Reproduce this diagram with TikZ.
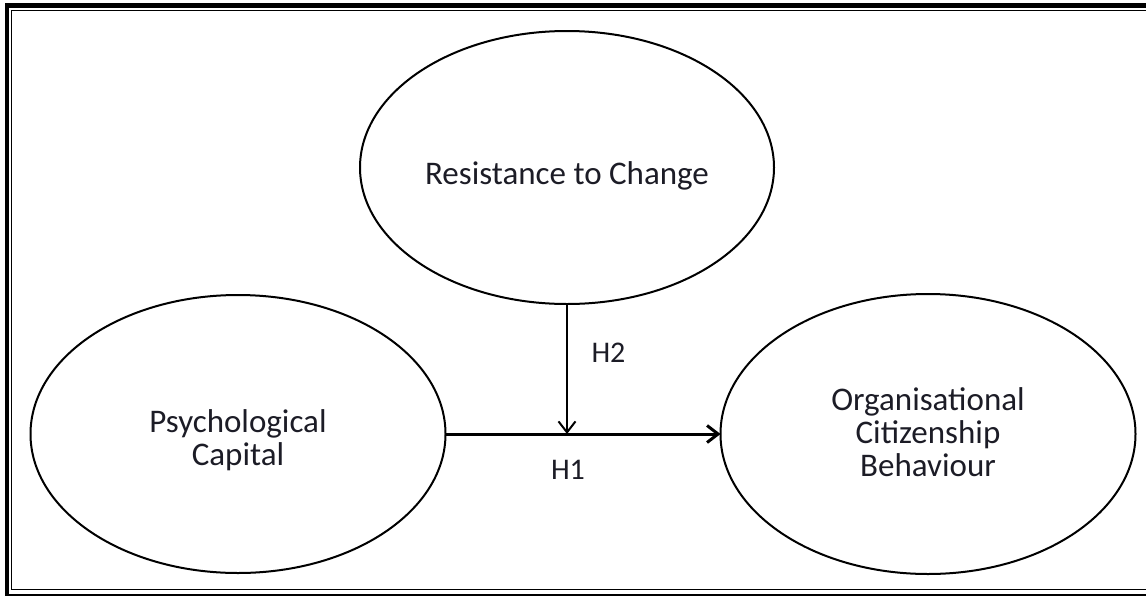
\documentclass[tikz,border=0pt]{standalone}
\usepackage{fontspec}
\setmainfont{Carlito}
\usetikzlibrary{shapes.geometric,arrows.meta}
\definecolor{textc}{RGB}{28,28,38}
\begin{document}
\begin{tikzpicture}[x=1pt,y=-1pt,
  oval/.style={draw=black, line width=2pt, ellipse, minimum width=415pt, minimum height=278pt, inner sep=0pt, outer sep=0pt},
  txt/.style={font=\fontsize{33}{33}\selectfont, text=textc, align=center, inner sep=0pt},
  hlab/.style={font=\fontsize{30}{30}\selectfont, text=textc, inner sep=0pt},
  arr/.style={-{Straight Barb[length=11pt,width=17pt]}, draw=black}]
\useasboundingbox (0,0) rectangle (1146,595);
\begin{scope}
  \clip (0,0) rectangle (1146,595);
  \draw[line width=4.5pt] (1146,5.5) -- (7,5.5) -- (7,596.5) -- (1146,596.5);
  \draw[line width=1.2pt] (1146,10.3) -- (11.7,10.3) -- (11.7,589.8) -- (1146,589.8);
\end{scope}
\node[oval, minimum width=414pt, minimum height=273pt,
      label={[txt,yshift=-8.3pt]center:Resistance to Change}] (rtc) at (567,167.5) {};
\node[oval, label={[txt,yshift=-6pt]center:{Psychological\\Capital}}] (pc) at (238,434) {};
\node[oval, minimum height=280pt,
      label={[txt,yshift=1.4pt]center:{Organisational\\Citizenship\\Behaviour}}] (ocb) at (928,434) {};
\coordinate (m) at (rtc.south |- pc.east);
\draw[arr, line width=3pt] (pc.east) -- (ocb.west);
\draw[arr, line width=2pt] (rtc.south) -- (m);
\node[hlab] (h2) at (608.5,352.5) {H2};
\node[hlab] (h1) at (568,469.5) {H1};
\end{tikzpicture}
\end{document}
